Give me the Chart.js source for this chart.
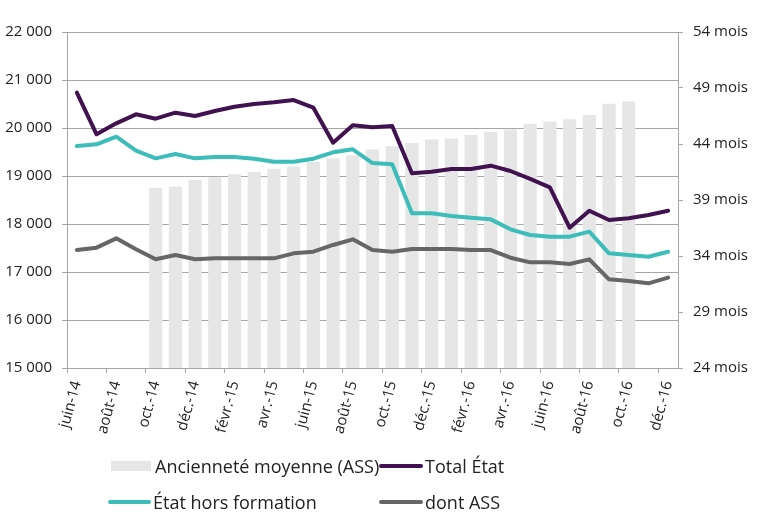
<!DOCTYPE html>
<html><head><meta charset="utf-8">
<script src="https://cdn.jsdelivr.net/npm/chart.js@4.4.1/dist/chart.umd.min.js"></script>
<style>
html,body{margin:0;padding:0;background:#fff;}
#wrap{position:relative;width:757px;height:519px;overflow:hidden;}
#c{position:absolute;left:0;top:0;}
.lg{position:absolute;font-family:'Open Sans',sans-serif;font-size:18px;color:#222;display:flex;align-items:center;white-space:nowrap;height:24px;}
.sw{display:inline-block;margin-right:4px;}
</style></head><body>
<div id="wrap"><canvas id="c" width="757" height="519"></canvas><div id="legend"></div></div>
<script>
const months = ['juin-14','juil.-14','août-14','sept.-14','oct.-14','nov.-14','déc.-14','janv.-15','févr.-15','mars-15','avr.-15','mai-15','juin-15','juil.-15','août-15','sept.-15','oct.-15','nov.-15','déc.-15','janv.-16','févr.-16','mars-16','avr.-16','mai-16','juin-16','juil.-16','août-16','sept.-16','oct.-16','nov.-16','déc.-16'];
const ancienneteASS = [null,null,null,null,40.1,40.2,40.8,41.0,41.3,41.5,41.8,42.0,42.4,42.7,43.0,43.5,43.8,44.1,44.4,44.5,44.8,45.1,45.3,45.8,46.0,46.2,46.6,47.6,47.8,null,null];
const totalEtat = [20736,19869,20097,20285,20194,20319,20250,20354,20444,20500,20535,20583,20423,19694,20056,20014,20042,19056,19090,19146,19146,19215,19104,18938,18764,17924,18277,18083,18118,18188,18277];
const etatHorsFormation = [19625,19660,19819,19527,19368,19458,19368,19396,19396,19361,19298,19298,19361,19493,19556,19270,19243,18222,18222,18167,18132,18097,17889,17771,17736,17736,17840,17389,17354,17319,17423];
const dontASS = [17458,17507,17701,17473,17264,17354,17264,17285,17285,17285,17285,17389,17423,17563,17681,17458,17423,17479,17479,17479,17458,17458,17298,17201,17201,17167,17264,16847,16813,16764,16882];
const leftAxis = {min:15000,max:22000,step:1000};
const rightAxis = {min:24,max:54,step:5};

const FONT = "'Open Sans', sans-serif";
const GRID = '#a6a6a6';
const TXT = '#222';

function fmtThousands(v){ return String(v).replace(/\B(?=(\d{3})+(?!\d))/g,' '); }

const lineCommon = {type:'line',yAxisID:'y',borderWidth:4,pointRadius:0,tension:0,borderJoinStyle:'round',borderCapStyle:'round',fill:false};

const chart = new Chart(document.getElementById('c'),{
  data:{
    labels:months,
    datasets:[
      {type:'bar',label:'Ancienneté moyenne (ASS)',data:ancienneteASS,yAxisID:'y2',backgroundColor:'#e6e6e6',borderWidth:0,categoryPercentage:1,barPercentage:0.67,order:10},
      Object.assign({label:'Total État',data:totalEtat,borderColor:'#40124f',backgroundColor:'#40124f',order:1},lineCommon),
      Object.assign({label:'État hors formation',data:etatHorsFormation,borderColor:'#3dbdb9',backgroundColor:'#3dbdb9',order:2},lineCommon),
      Object.assign({label:'dont ASS',data:dontASS,borderColor:'#666666',backgroundColor:'#666666',order:3},lineCommon)
    ]
  },
  options:{
    responsive:false,animation:false,
    layout:{padding:{top:32,left:0,right:0,bottom:0}},
    plugins:{legend:{display:false},tooltip:{enabled:false}},
    scales:{
      x:{
        type:'category',offset:true,
        grid:{offset:true,drawOnChartArea:false,drawTicks:true,tickLength:5,color:(ctx)=> (ctx.index!==undefined && ctx.index%2===0)?GRID:'rgba(0,0,0,0)'},
        border:{display:true,color:GRID,width:1},
        ticks:{autoSkip:false,maxRotation:75,minRotation:75,padding:6,color:TXT,font:{family:FONT,size:15},
          callback:function(v,i){return i%2===0?months[i]:'';}},
        afterFit:(s)=>{s.height=151;}
      },
      y:{
        position:'left',min:leftAxis.min,max:leftAxis.max,
        grid:{color:GRID,tickLength:5,lineWidth:1},
        border:{display:true,color:GRID},
        ticks:{stepSize:leftAxis.step,padding:10,color:TXT,font:{family:FONT,size:15},callback:(v)=>fmtThousands(v)},
        afterFit:(s)=>{s.width=67;}
      },
      y2:{
        position:'right',min:rightAxis.min,max:rightAxis.max,
        grid:{drawOnChartArea:false,color:GRID,tickLength:5},
        border:{display:true,color:GRID},
        ticks:{stepSize:rightAxis.step,padding:10,color:TXT,font:{family:FONT,size:15},callback:(v)=>v+' mois'},
        afterFit:(s)=>{s.width=79;}
      }
    }
  }
});

// HTML legend laid out in two columns like the original
const legendPos = [
  {ds:0,left:111,top:454},
  {ds:1,left:379,top:454},
  {ds:2,left:108,top:490},
  {ds:3,left:379,top:490}
];
const lg = document.getElementById('legend');
legendPos.forEach(p=>{
  const d = chart.data.datasets[p.ds];
  const item = document.createElement('div');
  item.className='lg';
  item.style.left=p.left+'px';
  item.style.top=p.top+'px';
  const sw = document.createElement('span');
  sw.className='sw';
  if(d.type==='bar'){
    sw.style.width='40px';sw.style.height='10px';sw.style.background=d.backgroundColor;
  } else {
    sw.style.width=(p.ds===2?43:44)+'px';sw.style.height='4px';sw.style.borderRadius='2px';sw.style.background=d.borderColor;sw.style.marginRight='2px';
  }
  const t = document.createElement('span');
  t.textContent=d.label;
  item.appendChild(sw);item.appendChild(t);
  lg.appendChild(item);
});
</script>
</body></html>
